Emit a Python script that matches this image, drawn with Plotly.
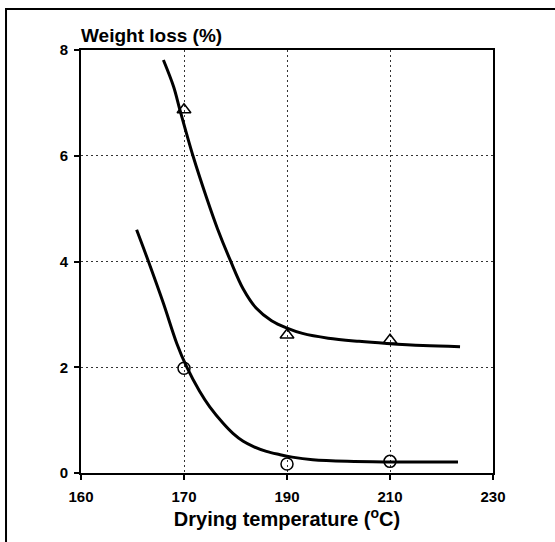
import plotly.graph_objects as go

# Measured points
temps = [170, 190, 210]
tri_loss = [6.87, 2.61, 2.51]
circ_loss = [1.98, 0.17, 0.22]

# Fitted curves
upper_x = [166.0, 168.0, 169.2, 171.8, 174.4, 176.5, 179.0, 181.5, 184.0, 187.0, 190.0, 193.0, 198.0, 204.0, 209.4, 216.4, 223.6]
upper_y = [7.81, 7.30, 6.87, 5.98, 5.20, 4.62, 4.02, 3.48, 3.12, 2.88, 2.74, 2.64, 2.55, 2.49, 2.45, 2.41, 2.39]
lower_x = [160.8, 163.1, 166.0, 168.6, 170.5, 173.0, 175.0, 177.6, 179.5, 181.5, 183.5, 186.0, 188.5, 191.0, 195.0, 201.7, 209.4, 216.0, 223.2]
lower_y = [4.60, 4.00, 3.21, 2.45, 2.01, 1.55, 1.25, 0.94, 0.75, 0.60, 0.50, 0.41, 0.35, 0.30, 0.25, 0.22, 0.21, 0.21, 0.21]

x_tickvals = [150, 170, 190, 210, 230]
x_ticktext = ["160", "170", "190", "210", "230"]
y_tickvals = [0, 2, 4, 6, 8]

FONT = "Liberation Sans, Arial, sans-serif"

fig = go.Figure()
fig.add_trace(go.Scatter(x=upper_x, y=upper_y, mode="lines", line=dict(color="black", width=3, shape="spline", smoothing=1.0), showlegend=False))
fig.add_trace(go.Scatter(x=lower_x, y=lower_y, mode="lines", line=dict(color="black", width=3, shape="spline", smoothing=1.0), showlegend=False))
fig.add_trace(go.Scatter(x=temps, y=tri_loss, mode="markers",
                         marker=dict(symbol="triangle-up-open", size=12, color="black", line=dict(width=1.5, color="black")),
                         showlegend=False))
fig.add_trace(go.Scatter(x=temps, y=circ_loss, mode="markers",
                         marker=dict(symbol="circle-open", size=12, color="black", line=dict(width=1.5, color="black")),
                         showlegend=False))

axis_common = dict(
    showline=True, linecolor="black", linewidth=1.6, mirror=True,
    ticks="outside", ticklen=5, tickwidth=1.5, tickcolor="black",
    showgrid=True, gridcolor="#333", gridwidth=1, griddash="2px,3px",
    zeroline=False,
    tickfont=dict(family=FONT, size=15, color="black", weight="bold"),
)

fig.update_xaxes(range=[150, 230], tickmode="array", tickvals=x_tickvals, ticktext=x_ticktext,
                 title=dict(text="Drying temperature (<sup>o</sup>C)", font=dict(family=FONT, size=20, color="black", weight="bold"), standoff=0),
                 ticklabelstandoff=4,
                 **axis_common)
fig.update_yaxes(range=[0, 8], tickmode="array", tickvals=y_tickvals,
                 ticklabelstandoff=3,
                 **axis_common)

fig.add_annotation(text="Weight loss (%)", xref="paper", yref="paper", x=-0.004, y=1.034,
                   xanchor="left", yanchor="middle", showarrow=False,
                   font=dict(family=FONT, size=19, color="black", weight="bold"))

# outer frame of the figure
fig.add_shape(type="rect", xref="paper", yref="paper", x0=-0.182, x1=1.2, y0=-0.25, y1=1.097,
              line=dict(color="black", width=2), layer="above")

fig.update_layout(
    width=555, height=542,
    margin=dict(l=81, r=62, t=50, b=69),
    paper_bgcolor="white", plot_bgcolor="white",
    font=dict(family=FONT, color="black"),
)

fig.write_html("out.html")
